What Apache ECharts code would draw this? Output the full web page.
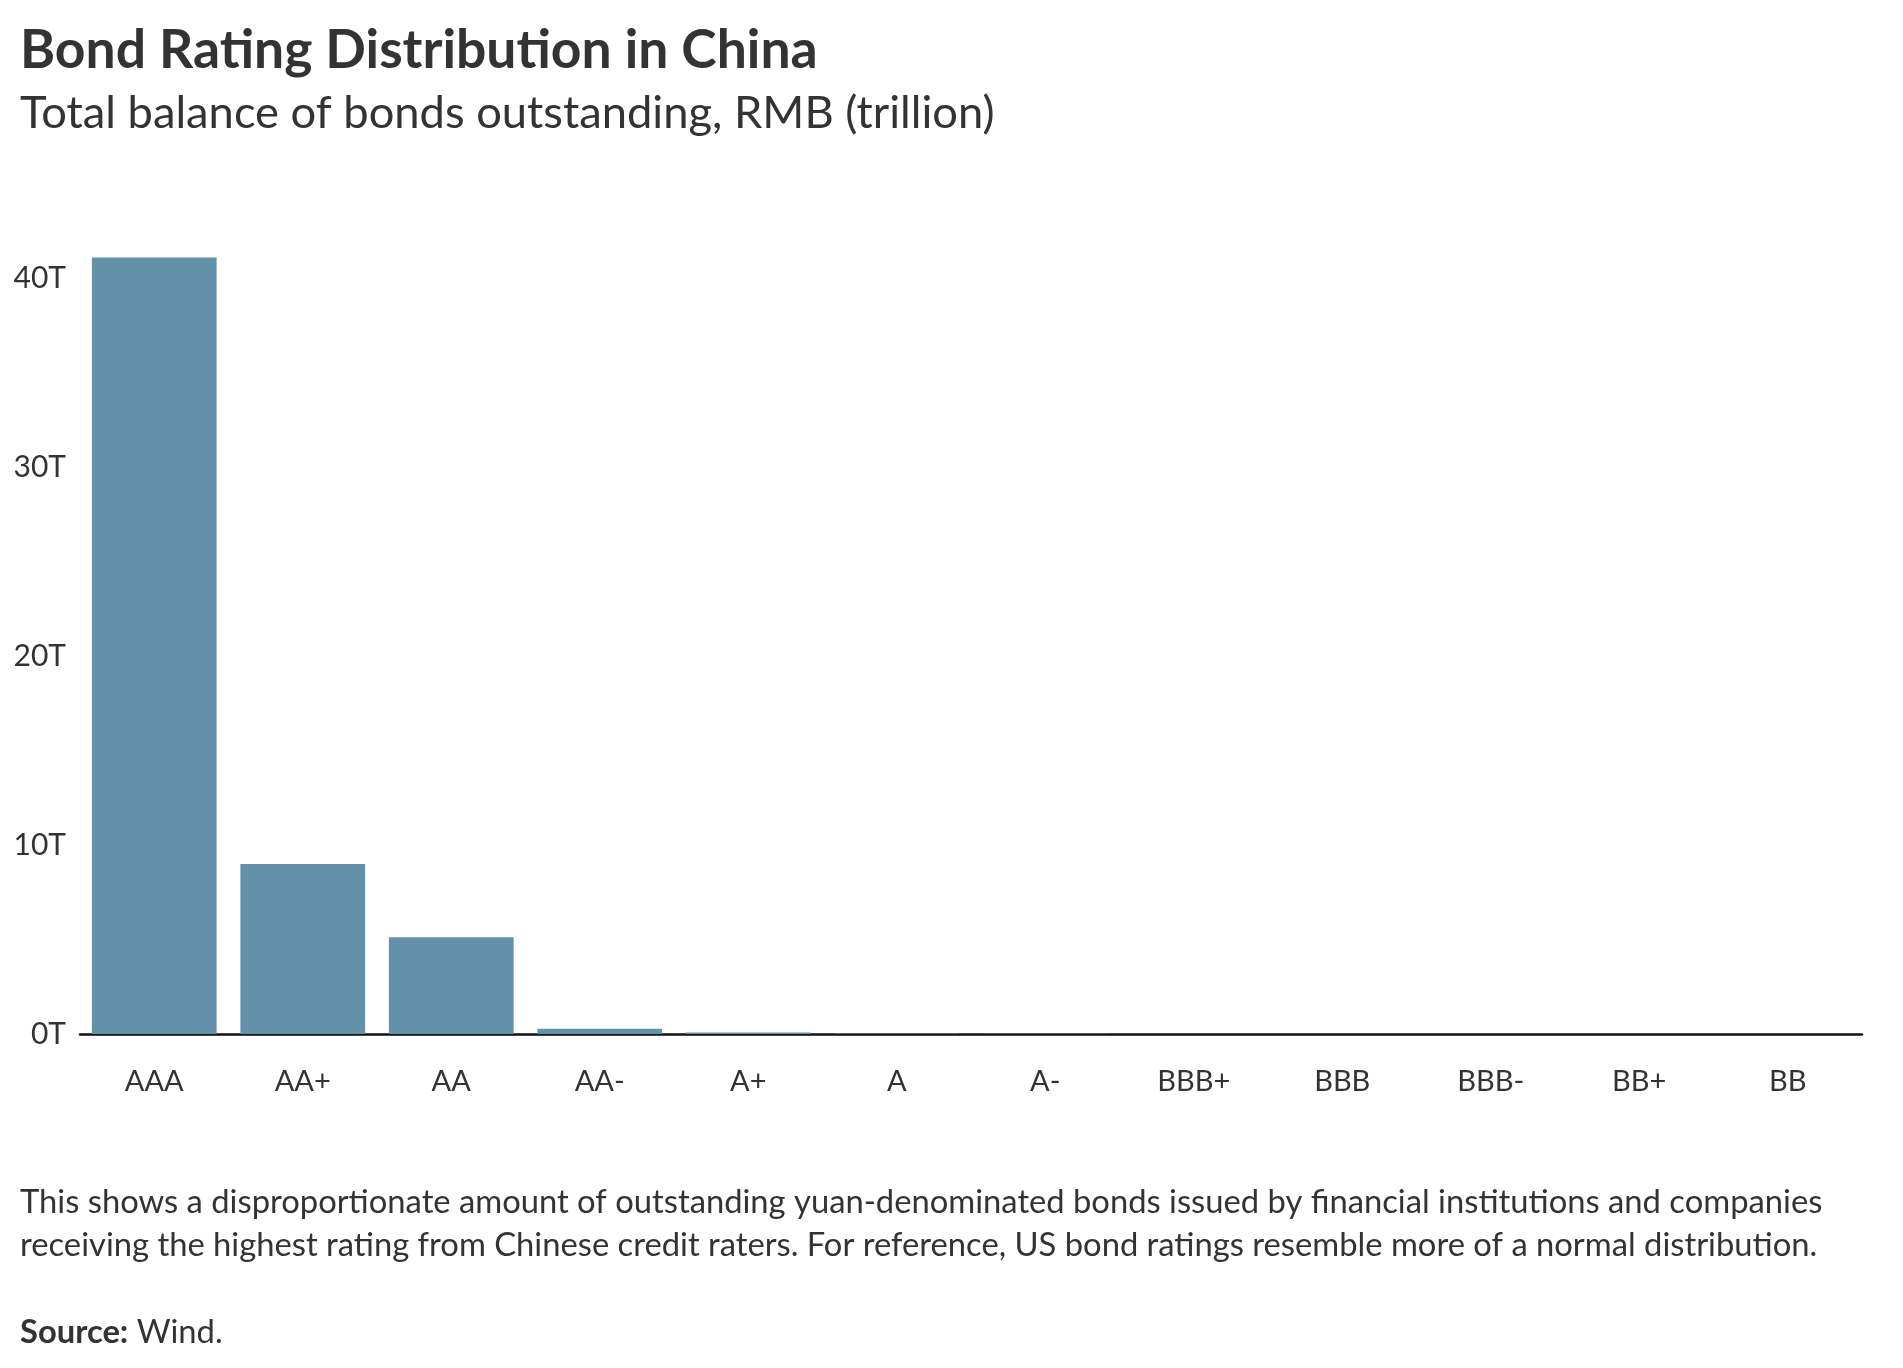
<!DOCTYPE html>
<html>
<head>
<meta charset="utf-8">
<script src="https://cdn.jsdelivr.net/npm/echarts@6/dist/echarts.min.js"></script>
<style>
  html, body { margin: 0; padding: 0; background: #ffffff; }
  #chart { width: 1903px; height: 1368px; }
</style>
</head>
<body>
<div id="chart"></div>
<script>
// ---- Data ----
const categories = ['AAA', 'AA+', 'AA', 'AA-', 'A+', 'A', 'A-', 'BBB+', 'BBB', 'BBB-', 'BB+', 'BB'];
const balances = [41.1, 9.0, 5.12, 0.28, 0.08, 0.02, 0.01, 0.005, 0.004, 0.003, 0.002, 0.002];
const yTicks = [0, 10, 20, 30, 40];

const titleText = 'Bond Rating Distribution in China';
const subtitleText = 'Total balance of bonds outstanding, RMB (trillion)';
const noteLines = [
  'This shows a disproportionate amount of outstanding yuan-denominated bonds issued by financial institutions and companies',
  'receiving the highest rating from Chinese credit raters. For reference, US bond ratings resemble more of a normal distribution.'
];
const sourceLabel = 'Source:';
const sourceText = ' Wind.';

// ---- Text measuring helpers (style only) ----
const FAMILY = 'Lato';
const mctx = document.createElement('canvas').getContext('2d');
function fitSize(text, weight, target) {
  mctx.font = weight + ' 100px ' + FAMILY;
  return 100 * target / mctx.measureText(text).width;
}
function middleFromBaseline(baseline, size, weight) {
  mctx.font = weight + ' ' + size + 'px ' + FAMILY;
  mctx.textBaseline = 'middle';
  const m = mctx.measureText('H');
  return baseline - m.actualBoundingBoxDescent;
}

const titleSize = fitSize(titleText, 'bold', 798);
const subSize = fitSize(subtitleText, 'normal', 975);
const noteSize = fitSize(noteLines[0], 'normal', 1803);

const TEXT = '#333333';

const chart = echarts.init(document.getElementById('chart'), null, { renderer: 'canvas' });

const option = {
  backgroundColor: '#ffffff',
  animation: false,
  grid: { left: 80, right: 41, top: 1034 - 42 * 18.89, bottom: 1368 - 1034, containLabel: false },
  xAxis: {
    type: 'category',
    data: categories,
    axisLine: { show: true, lineStyle: { color: '#111111', width: 2.5 } },
    axisTick: { show: false },
    axisLabel: { color: TEXT, fontFamily: FAMILY, fontSize: 29, margin: 33, interval: 0 }
  },
  yAxis: {
    type: 'value',
    min: 0,
    max: 42,
    interval: 10,
    axisLine: { show: false },
    axisTick: { show: false },
    splitLine: { show: false },
    axisLabel: {
      color: TEXT, fontFamily: FAMILY, fontSize: 30, margin: 14,
      showMaxLabel: false,
      formatter: function (v) { return yTicks.indexOf(v) >= 0 ? v + 'T' : ''; }
    }
  },
  series: [{
    type: 'bar',
    data: balances,
    barCategoryGap: '16%',
    itemStyle: { color: '#6491aa' },
    z: 1
  }],
  graphic: [
    {
      type: 'text', x: 20, y: middleFromBaseline(68, titleSize, 'bold'),
      style: { text: titleText, font: 'bold ' + titleSize + 'px ' + FAMILY, fill: TEXT, textAlign: 'left', textVerticalAlign: 'middle' }
    },
    {
      type: 'text', x: 20, y: middleFromBaseline(128, subSize, 'normal'),
      style: { text: subtitleText, font: 'normal ' + subSize + 'px ' + FAMILY, fill: TEXT, textAlign: 'left', textVerticalAlign: 'middle' }
    },
    {
      type: 'text', x: 20, y: middleFromBaseline(1213, noteSize, 'normal'),
      style: { text: noteLines[0], font: 'normal ' + noteSize + 'px ' + FAMILY, fill: TEXT, textAlign: 'left', textVerticalAlign: 'middle' }
    },
    {
      type: 'text', x: 20, y: middleFromBaseline(1256, noteSize, 'normal'),
      style: { text: noteLines[1], font: 'normal ' + noteSize + 'px ' + FAMILY, fill: TEXT, textAlign: 'left', textVerticalAlign: 'middle' }
    },
    {
      type: 'text', x: 20, y: middleFromBaseline(1343, noteSize, 'normal'),
      style: {
        text: '{b|' + sourceLabel + '}{r|' + sourceText + '}',
        fill: TEXT, textAlign: 'left', textVerticalAlign: 'middle',
        rich: {
          b: { fontFamily: FAMILY, fontWeight: 'bold', fontSize: noteSize, fill: TEXT },
          r: { fontFamily: FAMILY, fontWeight: 'normal', fontSize: noteSize, fill: TEXT }
        }
      }
    }
  ]
};

chart.setOption(option);
</script>
</body>
</html>
